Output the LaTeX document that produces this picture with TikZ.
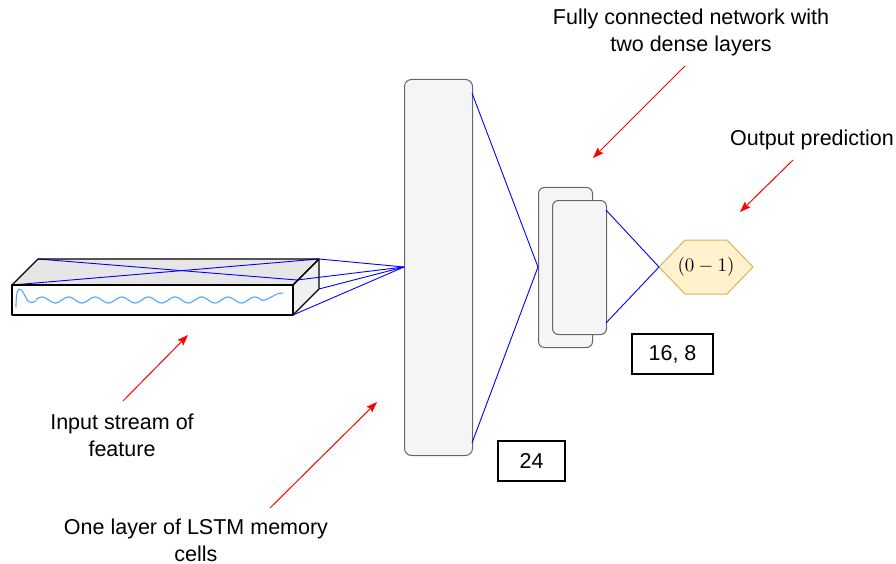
\documentclass[tikz,border=0pt]{standalone}
\usepackage{graphicx}
\usepackage{fontspec}
\setmainfont{Liberation Sans}
\usetikzlibrary{arrows.meta,shapes.geometric}
\definecolor{cellfill}{HTML}{F5F5F5}
\definecolor{cellline}{HTML}{666666}
\definecolor{hexfill}{HTML}{FFF2CC}
\definecolor{hexline}{HTML}{D6B656}
\definecolor{wavec}{HTML}{4DA6FF}
\definecolor{topface}{HTML}{E6E6E6}
\definecolor{sideface}{HTML}{F0F0F0}
\tikzset{
  cell/.style={draw=cellline,fill=cellfill,line width=1pt,rounded corners=7pt},
  conn/.style={draw=blue,line width=0.9pt},
  note/.style={red,line width=1pt,-{Stealth[length=11pt,width=8pt,inset=2pt]}},
  lbl/.style={font=\fontsize{21.5}{27}\selectfont,align=center,inner sep=0pt},
  numbox/.style={draw=black,line width=1.2pt,font=\fontsize{21.5}{24}\selectfont,minimum width=67pt,minimum height=40pt,inner sep=0pt},
  faceline/.style={draw=black,line width=1.1pt,line join=round}
}
\begin{document}
\begin{tikzpicture}[x=1pt,y=-1pt]
\useasboundingbox (0,0) rectangle (896,564);
% cuboid corners
\coordinate (fl) at (12,285);
\coordinate (fr) at (293,285);
\coordinate (bl) at (38,259);
\coordinate (br) at (319,259);
\coordinate (flb) at (12,315);
\coordinate (frb) at (293,315);
\coordinate (brb) at (319,289);
\coordinate (mid) at (297,280);
% faces
\path[fill=topface] (fl) -- (bl) -- (br) -- (fr) -- cycle;
\path[fill=sideface] (fr) -- (br) -- (brb) -- (frb) -- cycle;
\path[fill=white] (fl) rectangle (frb);
% blue lines on top face
\draw[conn] (bl) -- (mid);
\draw[conn] (fl) -- (br);
% outlines
\draw[faceline] (fl) -- (bl) -- (br) -- (fr) -- cycle;
\draw[faceline] (fr) -- (br) -- (brb) -- (frb);
\draw[faceline] (fl) rectangle (frb);
% wave
\draw[wavec,line width=1.1pt,line cap=round]
  (16,307) .. controls (16,283) and (21,286) .. (27,300)
  .. controls (29,303) and (33,303) .. (36,301)
  plot[domain=36:262,samples=160,smooth] (\x,{300-3*cos(13.534*(\x-42))})
  .. controls (270,300) and (274,293) .. (283,293);
% LSTM cell
\node[cell,minimum width=68pt,minimum height=376pt,anchor=north west,inner sep=0pt] (lstm) at (404,79) {};
\coordinate (lin) at (404,267);
\draw[conn] (br) -- (lin);
\draw[conn] (mid) -- (lin);
\draw[conn] (brb) -- (lin);
\draw[conn] (frb) -- (lin);
% dense layers
\node[cell,rounded corners=6pt,minimum width=54pt,minimum height=160pt,anchor=north west,inner sep=0pt] (d1) at (538,187) {};
\node[cell,rounded corners=6pt,minimum width=54pt,minimum height=134pt,anchor=north west,inner sep=0pt] (d2) at (552,200) {};
\coordinate (lo1) at (472,93);
\coordinate (lo2) at (472,443);
\coordinate (din) at (538,267);
\draw[conn] (lo1) -- (din);
\draw[conn] (lo2) -- (din);
% output hexagon
\path[draw=hexline,fill=hexfill,line width=1pt] (659,267) -- (685,240) -- (727,240) -- (753,267) -- (727,294) -- (685,294) -- cycle;
\node[inner sep=0pt] (outtxt) at (706,267) {\scalebox{1.9}{$(0-1)$}};
\coordinate (dout1) at (606,210);
\coordinate (dout2) at (606,323);
\coordinate (hin) at (659,267);
\draw[conn] (dout1) -- (hin);
\draw[conn] (dout2) -- (hin);
% number boxes
\node[numbox,minimum width=81pt] (n168) at (672.5,354) {16, 8};
\node[numbox] (n24) at (531.5,461) {24};
% labels
\node[lbl] (lfc) at (691,32) {Fully connected network with\\two dense layers};
\node[lbl] (lout) at (812,140) {Output prediction};
\node[lbl] (lin2) at (122,435) {Input stream of\\feature};
\node[lbl] (llstm) at (196,540) {One layer of LSTM memory\\cells};
% red arrows
\coordinate (a1s) at (685,66); \coordinate (a1e) at (593,158);
\coordinate (a2s) at (793,160); \coordinate (a2e) at (740,212);
\coordinate (a3s) at (123,401); \coordinate (a3e) at (188,335);
\coordinate (a4s) at (270,508); \coordinate (a4e) at (377,402);
\draw[note] (a1s) -- (a1e);
\draw[note] (a2s) -- (a2e);
\draw[note] (a3s) -- (a3e);
\draw[note] (a4s) -- (a4e);
\end{tikzpicture}
\end{document}
